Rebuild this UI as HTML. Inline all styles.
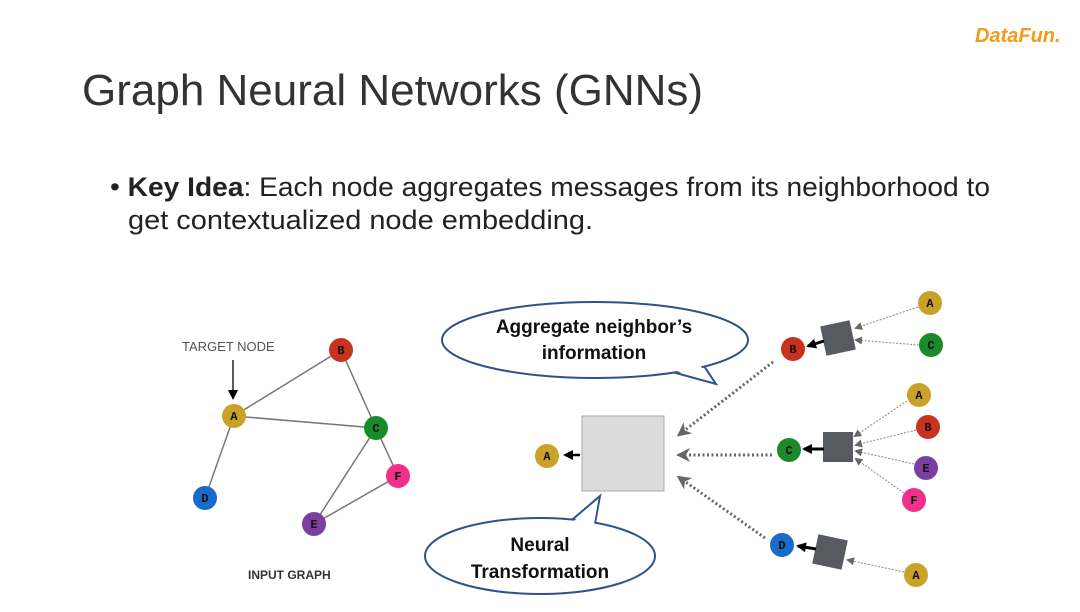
<!DOCTYPE html>
<html><head><meta charset="utf-8"><style>
body{margin:0;width:1080px;height:607px;background:#fff;overflow:hidden;font-family:"Liberation Sans",sans-serif}
</style></head><body>
<svg width="1080" height="607" viewBox="0 0 1080 607" xmlns="http://www.w3.org/2000/svg">
<defs>
<marker id="ag" markerWidth="8" markerHeight="8" refX="6" refY="4" orient="auto" markerUnits="userSpaceOnUse"><path d="M0,0 L8,4 L0,8z" fill="#666"/></marker>
<marker id="agb" markerWidth="14" markerHeight="14" refX="10" refY="7" orient="auto" markerUnits="userSpaceOnUse"><path d="M0,0 L14,7 L0,14 L4,7z" fill="#666"/></marker>
<marker id="ak" markerWidth="10" markerHeight="10" refX="8" refY="5" orient="auto" markerUnits="userSpaceOnUse"><path d="M0,0 L10,5 L0,10z" fill="#000"/></marker>
</defs>
<text x="975" y="42" font-size="20" font-weight="bold" font-style="italic" fill="#f29a1a">DataFun.</text>
<text x="82" y="105" font-size="44" fill="#333">Graph Neural Networks (GNNs)</text>
<text x="110" y="196" font-size="27" fill="#222" textLength="880" lengthAdjust="spacingAndGlyphs">• <tspan font-weight="bold">Key Idea</tspan>: Each node aggregates messages from its neighborhood to</text>
<text x="128" y="229" font-size="27" fill="#222" textLength="465" lengthAdjust="spacingAndGlyphs">get contextualized node embedding.</text>
<!-- left graph -->
<g stroke="#777" stroke-width="1.5">
<line x1="234" y1="416" x2="341" y2="350"/><line x1="234" y1="416" x2="376" y2="428"/>
<line x1="341" y1="350" x2="376" y2="428"/><line x1="234" y1="416" x2="205" y2="498"/>
<line x1="376" y1="428" x2="314" y2="524"/><line x1="398" y1="476" x2="314" y2="524"/>
<line x1="376" y1="428" x2="398" y2="476"/>
</g>
<text x="182" y="351" font-size="13" fill="#555">TARGET NODE</text>
<line x1="233" y1="360" x2="233" y2="398" stroke="#000" stroke-width="1.3" marker-end="url(#ak)"/>
<text x="248" y="579" font-size="12" font-weight="bold" fill="#333">INPUT GRAPH</text>
<!-- middle -->
<rect x="582" y="416" width="82" height="75" fill="#dcdcdc" stroke="#aaa"/>
<line x1="580" y1="455" x2="565" y2="455" stroke="#000" stroke-width="2.5" marker-end="url(#ak)"/>
<g stroke="#666" stroke-width="3" stroke-dasharray="2,2.5" fill="none">
<line x1="773" y1="362" x2="680" y2="434" marker-end="url(#agb)"/>
<line x1="772" y1="455" x2="680" y2="455" marker-end="url(#agb)"/>
<line x1="765" y1="538" x2="680" y2="478" marker-end="url(#agb)"/>
</g>
<g fill="#575a60">
<rect x="823" y="323" width="30" height="30" transform="rotate(-12 838 338)"/>
<rect x="823" y="432" width="30" height="30"/>
<rect x="815" y="537" width="30" height="30" transform="rotate(12 830 552)"/>
</g>
<g stroke="#000" stroke-width="3">
<line x1="824" y1="341" x2="808" y2="346" marker-end="url(#ak)"/>
<line x1="824" y1="449" x2="804" y2="449" marker-end="url(#ak)"/>
<line x1="816" y1="549" x2="798" y2="546" marker-end="url(#ak)"/>
</g>
<g stroke="#888" stroke-width="1" stroke-dasharray="2,1.5">
<line x1="918" y1="307" x2="856" y2="328" marker-end="url(#ag)"/>
<line x1="919" y1="345" x2="856" y2="340" marker-end="url(#ag)"/>
<line x1="907" y1="401" x2="855" y2="436" marker-end="url(#ag)"/>
<line x1="916" y1="430" x2="856" y2="445" marker-end="url(#ag)"/>
<line x1="914" y1="464" x2="856" y2="451" marker-end="url(#ag)"/>
<line x1="904" y1="493" x2="856" y2="459" marker-end="url(#ag)"/>
<line x1="904" y1="572" x2="848" y2="560" marker-end="url(#ag)"/>
</g>
<!-- bubbles -->
<g stroke="#2f528f" stroke-width="2">
<polygon points="665,370 716,384 700,360" fill="#fff"/>
<ellipse cx="595" cy="340" rx="153" ry="38" fill="#fff"/>
<polygon points="669,369 710,380 698,362" fill="#fff" stroke="none"/>
<polygon points="560,530 600,496 592,540" fill="#fff"/>
<ellipse cx="540" cy="556" rx="115" ry="38" fill="#fff"/>
<polygon points="563,530 598,501 592,536" fill="#fff" stroke="none"/>
</g>
<text x="594" y="333" font-size="19" font-weight="bold" text-anchor="middle" fill="#111">Aggregate neighbor’s</text>
<text x="594" y="359" font-size="19" font-weight="bold" text-anchor="middle" fill="#111">information</text>
<text x="540" y="551" font-size="19" font-weight="bold" text-anchor="middle" fill="#111">Neural</text>
<text x="540" y="578" font-size="19" font-weight="bold" text-anchor="middle" fill="#111">Transformation</text>
<!-- nodes -->
<g font-family="Liberation Mono,monospace" font-weight="bold" font-size="12" text-anchor="middle" fill="#111">
<circle cx="341" cy="350" r="12" fill="#c8321e"/><text x="341" y="354">B</text>
<circle cx="234" cy="416" r="12" fill="#c9a227"/><text x="234" y="420">A</text>
<circle cx="376" cy="428" r="12" fill="#1a8a2a"/><text x="376" y="432">C</text>
<circle cx="398" cy="476" r="12" fill="#f0308a"/><text x="398" y="480">F</text>
<circle cx="205" cy="498" r="12" fill="#1a6ac8"/><text x="205" y="502">D</text>
<circle cx="314" cy="524" r="12" fill="#7a3fa0"/><text x="314" y="528">E</text>
<circle cx="547" cy="456" r="12" fill="#c9a227"/><text x="547" y="460">A</text>
<circle cx="793" cy="349" r="12" fill="#c8321e"/><text x="793" y="353">B</text>
<circle cx="789" cy="450" r="12" fill="#1a8a2a"/><text x="789" y="454">C</text>
<circle cx="782" cy="545" r="12" fill="#1a6ac8"/><text x="782" y="549">D</text>
<circle cx="930" cy="303" r="12" fill="#c9a227"/><text x="930" y="307">A</text>
<circle cx="931" cy="345" r="12" fill="#1a8a2a"/><text x="931" y="349">C</text>
<circle cx="919" cy="395" r="12" fill="#c9a227"/><text x="919" y="399">A</text>
<circle cx="928" cy="427" r="12" fill="#c8321e"/><text x="928" y="431">B</text>
<circle cx="926" cy="468" r="12" fill="#7a3fa0"/><text x="926" y="472">E</text>
<circle cx="914" cy="500" r="12" fill="#f0308a"/><text x="914" y="504">F</text>
<circle cx="916" cy="575" r="12" fill="#c9a227"/><text x="916" y="579">A</text>
</g>
</svg>
</body></html>
